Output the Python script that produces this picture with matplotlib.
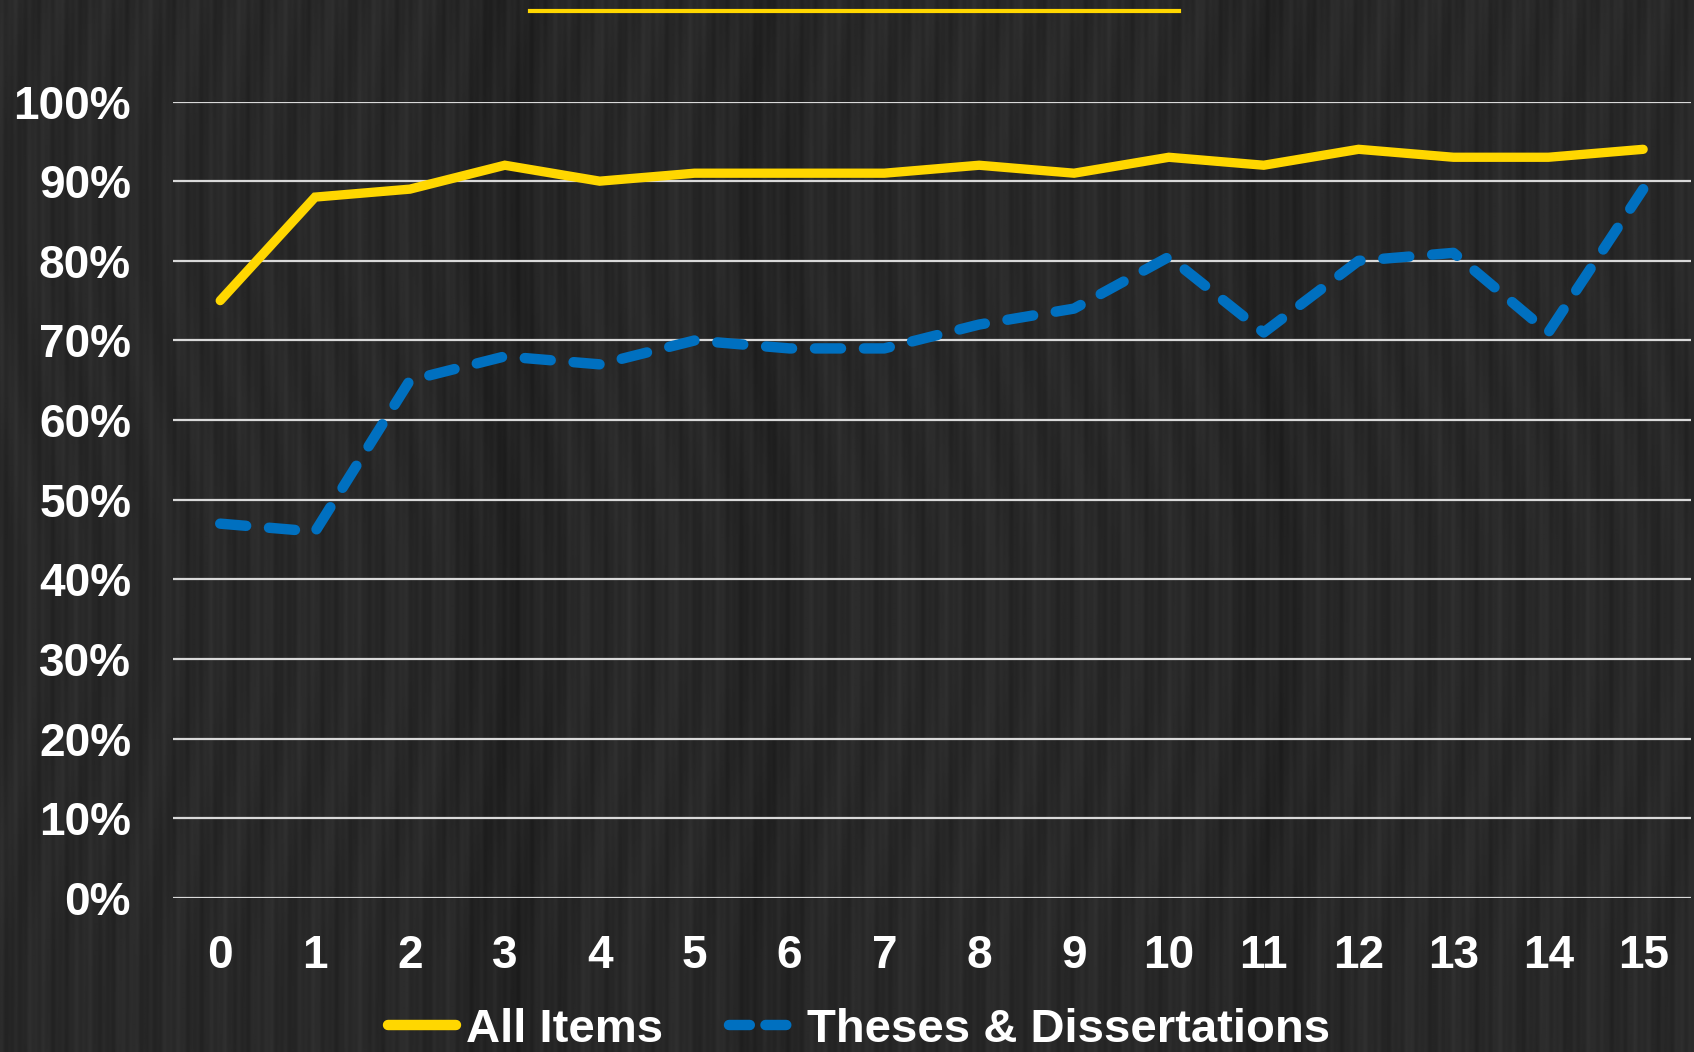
import numpy as np
import matplotlib
matplotlib.use("Agg")
import matplotlib.pyplot as plt
from matplotlib.lines import Line2D

years = list(range(16))
all_items = [75, 88, 89, 92, 90, 91, 91, 91, 92, 91, 93, 92, 94, 93, 93, 94]
theses = [47, 46, 65, 68, 67, 70, 69, 69, 72, 74, 80.5, 71, 80, 81, 71, 89]
yticks = [0, 10, 20, 30, 40, 50, 60, 70, 80, 90, 100]
ytick_labels = [f"{v}%" for v in yticks]
series_names = ["All Items", "Theses & Dissertations"]

YELLOW = "#FFD700"
BLUE = "#0070C0"

plt.rcParams['font.family'] = ['Liberation Sans', 'DejaVu Sans']

fig = plt.figure(figsize=(16.94, 10.52), dpi=100)
fig.patch.set_facecolor("#262626")

# subtle wood-like background (deterministic streaks)
bg = fig.add_axes([0, 0, 1, 1], zorder=-10)
xs = np.linspace(0, 1, 1694)
ys = np.linspace(0, 1, 200)
X, Y = np.meshgrid(xs, ys)
tex = (0.16
       + 0.012 * np.sin(2 * np.pi * 37 * X + 3 * np.sin(2 * np.pi * 1.3 * Y))
       + 0.010 * np.sin(2 * np.pi * 113 * X + 1.7)
       + 0.008 * np.sin(2 * np.pi * 251 * X + 0.4 * np.sin(2 * np.pi * 2 * Y))
       - 0.025 * np.exp(-((X - 0.30) ** 2) / 0.0008)
       - 0.020 * np.exp(-((X - 0.45) ** 2) / 0.0005)
       - 0.020 * np.exp(-((X - 0.75) ** 2) / 0.0006))
bg.imshow(tex, cmap="gray", vmin=0, vmax=1, aspect="auto", extent=[0, 1, 0, 1])
bg.axis("off")

ax = fig.add_axes([0.102, 0.1464, 0.896, 0.7571])
ax.set_facecolor("none")
ax.set_xlim(-0.5, 15.5)
ax.set_ylim(0, 100)

ax.plot(years, all_items, color=YELLOW, lw=6.7, solid_capstyle="round",
        solid_joinstyle="miter", zorder=3)
ax.plot(years, theses, color=BLUE, lw=7.5, dashes=(2.5, 2.2),
        dash_capstyle="round", dash_joinstyle="round", zorder=3)

ax.set_yticks(yticks)
ax.set_yticklabels(ytick_labels)
ax.set_xticks(years)
ax.set_xticklabels([str(y) for y in years])
ax.grid(axis="y", color="#d9d9d9", lw=1.6, zorder=1)
ax.set_axisbelow(True)
for s in ax.spines.values():
    s.set_visible(False)
ax.tick_params(axis="both", length=0, labelcolor="white", labelsize=33)
ax.tick_params(axis="x", pad=26)
ax.tick_params(axis="y", pad=30)
for lbl in ax.get_xticklabels() + ax.get_yticklabels():
    lbl.set_fontweight("bold")

# decorative title underline
fig.add_artist(Line2D([530 / 1694, 1179 / 1694], [1 - 11 / 1052, 1 - 11 / 1052],
                      color=YELLOW, lw=3, transform=fig.transFigure))

handles = [Line2D([], [], color=YELLOW, lw=7.5, solid_capstyle="round"),
           Line2D([], [], color=BLUE, lw=7.5, dashes=(2.0, 1.5), dash_capstyle="round")]
leg = fig.legend(handles, series_names, loc="lower center", bbox_to_anchor=(0.507, 0.0),
                 ncol=2, frameon=False, handlelength=1.45, borderpad=0.0,
                 borderaxespad=0.0, handletextpad=0.2, columnspacing=1.4,
                 prop={"weight": "bold", "size": 34})
for t in leg.get_texts():
    t.set_color("white")

fig.savefig("out.png", dpi=100, facecolor=fig.get_facecolor())
